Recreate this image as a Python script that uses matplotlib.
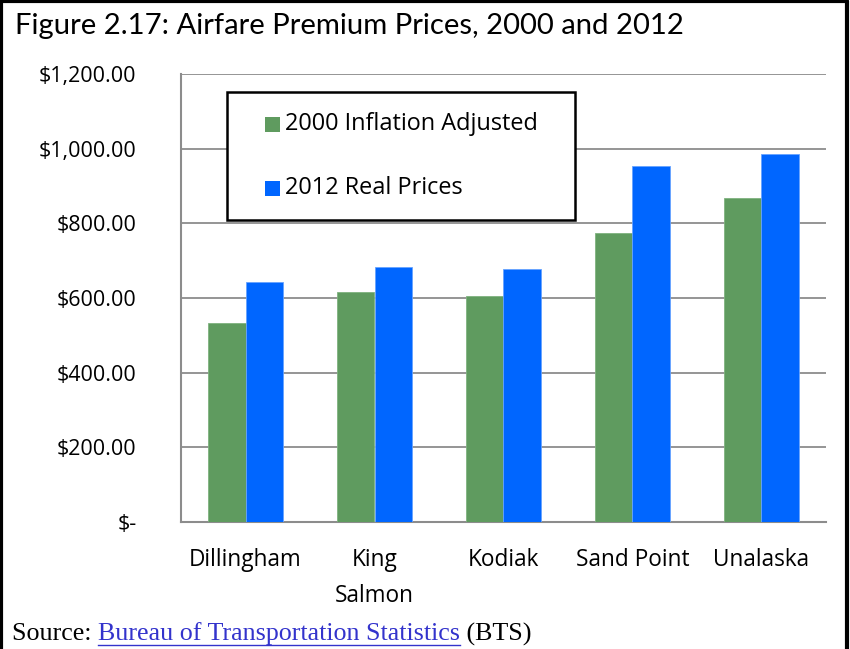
import numpy as np
import matplotlib.pyplot as plt
from matplotlib.lines import Line2D
from matplotlib.patches import Rectangle

categories = ["Dillingham", "King\nSalmon", "Kodiak", "Sand Point", "Unalaska"]
prices_2000 = [534, 616, 606, 773, 868]
prices_2012 = [643, 684, 679, 954, 986]
series_names = ["2000 Inflation Adjusted", "2012 Real Prices"]
yticks = [0, 200, 400, 600, 800, 1000, 1200]
ytick_labels = ["$-", "$200.00", "$400.00", "$600.00", "$800.00", "$1,000.00", "$1,200.00"]

green = "#5f9b5f"
blue = "#0066ff"
colors = [green, blue]

fig = plt.figure(figsize=(8.5, 6.49), dpi=100)
W, H = 850, 649
ax = fig.add_axes([181 / W, 1 - 522 / H, (826 - 181) / W, (522 - 74) / H])

x = np.arange(len(categories))
w = 0.287
ax.bar(x - w / 2, prices_2000, w, color=green, edgecolor="#7fb27f", linewidth=0.6, zorder=3)
ax.bar(x + w / 2, prices_2012, w, color=blue, edgecolor="#66a3ff", linewidth=0.6, zorder=3)

ax.set_xlim(-0.5, len(categories) - 0.5)
ax.set_ylim(0, 1200)
ax.set_yticks(yticks)
ax.set_yticklabels(ytick_labels)
ax.set_xticks(x)
ax.set_xticklabels(categories, linespacing=1.65)
ax.tick_params(length=0, labelsize=15.5)
ax.tick_params(axis="x", labelsize=16.3, pad=19)
ax.tick_params(axis="y", pad=32)
for lab in ax.get_yticklabels() + ax.get_xticklabels():
    lab.set_family("Open Sans")
ax.yaxis.grid(True, color="#8c8c8c", linewidth=1.3, zorder=0)
for s in ["top", "right"]:
    ax.spines[s].set_visible(False)
for s in ["left", "bottom"]:
    ax.spines[s].set_color("#8c8c8c")
    ax.spines[s].set_linewidth(1.5)

# legend box, drawn by hand
fig.patches.append(Rectangle((227 / W, 1 - 220 / H), (575 - 227) / W, (220 - 92) / H,
                             transform=fig.transFigure, facecolor="white",
                             edgecolor="black", linewidth=1.8, zorder=5))
for i, (name, c) in enumerate(zip(series_names, colors)):
    yc = 124 + i * 64
    fig.patches.append(Rectangle((265 / W, 1 - (yc + 7.5) / H), 15 / W, 15 / H,
                                 transform=fig.transFigure, facecolor=c, zorder=6))
    fig.text(285 / W, 1 - yc / H, name, fontsize=16.9, family="Open Sans",
             va="center", zorder=7)

fig.text(15 / W, 1 - 26 / H, "Figure 2.17: Airfare Premium Prices, 2000 and 2012",
         fontsize=21.1, family="Lato", va="center")

# source line, pieces laid out one after another
renderer = fig.canvas.get_renderer()
xpos = 12
ys = 1 - 634 / H
for piece, col in [("Source: ", "black"), ("Bureau of Transportation Statistics", "#3333cc"), (" (BTS)", "black")]:
    t = fig.text(xpos / W, ys, piece, fontsize=18.7, family="Liberation Serif", va="center", color=col)
    bb = t.get_window_extent(renderer)
    if col != "black":
        fig.add_artist(Line2D([xpos / W, (xpos + bb.width) / W], [1 - 645 / H, 1 - 645 / H],
                              color=col, linewidth=1))
    xpos += bb.width

# figure border
fig.add_artist(Line2D([1 / W, 1 / W, 847 / W, 847 / W], [0, 1 - 1 / H, 1 - 1 / H, 0],
                      color="black", linewidth=3))

fig.savefig("out.png", dpi=100)
